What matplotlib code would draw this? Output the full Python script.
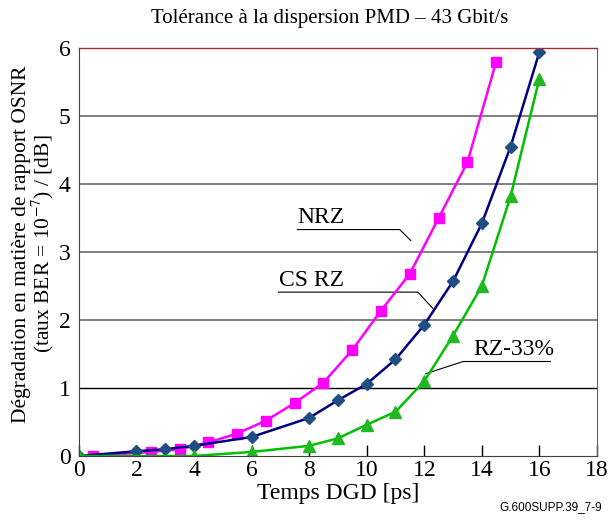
import matplotlib
matplotlib.use("Agg")
import matplotlib.pyplot as plt

# DGD [ps] / OSNR penalty [dB]
nrz_x = [0.5, 2.5, 3.5, 4.5, 5.5, 6.5, 7.5, 8.5, 9.5, 10.5, 11.5, 12.5, 13.5, 14.5]
nrz_y = [0.0, 0.06, 0.1, 0.2, 0.33, 0.52, 0.78, 1.08, 1.56, 2.14, 2.68, 3.5, 4.32, 5.8]

csrz_x = [0, 2, 3, 4, 6, 8, 9, 10, 11, 12, 13, 14, 15, 16]
csrz_y = [0.0, 0.07, 0.1, 0.15, 0.28, 0.56, 0.82, 1.06, 1.42, 1.93, 2.57, 3.42, 4.55, 5.94]

rz33_x = [0, 4, 6, 8, 9, 10, 11, 12, 13, 14, 15, 16]
rz33_y = [0.0, 0.0, 0.06, 0.15, 0.26, 0.46, 0.65, 1.1, 1.77, 2.5, 3.82, 5.55]

x_ticks = [0, 2, 4, 6, 8, 10, 12, 14, 16, 18]
y_ticks = [0, 1, 2, 3, 4, 5, 6]

plt.rcParams["font.family"] = ["Liberation Serif", "DejaVu Serif"]
plt.rcParams["mathtext.fontset"] = "stix"

fig = plt.figure(figsize=(6.11, 5.22), dpi=100)
ax = fig.add_axes([0.129, 0.1264, 0.848, 0.7816])

for yv in y_ticks[1:-1]:
    ax.axhline(yv, color="black" if yv == 1 else "#808080",
               lw=1.0 if yv == 1 else 1.4, zorder=1)

ax.plot(nrz_x, nrz_y, color="#FF00FF", lw=1.8, marker="s", ms=7, zorder=3)
ax.plot(csrz_x, csrz_y, color="#000080", lw=1.8, marker="D", ms=6.5,
        mfc="#1F4E85", mec="#1F4E85", zorder=3)
ax.plot(rz33_x, rz33_y, color="#00C000", lw=1.8, marker="^", ms=8,
        mfc="#22B822", mec="#22B822", zorder=3)

ax.set_xlim(0, 18)
ax.set_ylim(0, 6)
ax.set_xticks(x_ticks)
ax.set_yticks(y_ticks)
ax.tick_params(axis="x", direction="in", length=8, width=1, labelsize=17, pad=3)
ax.tick_params(axis="y", length=0, labelsize=17, pad=6)

ax.spines["top"].set_color("#A03030")
ax.spines["top"].set_linewidth(1.0)
ax.spines["right"].set_color("#606060")
ax.spines["left"].set_color("#404040")
ax.spines["bottom"].set_color("#404040")
for s in ax.spines.values():
    s.set_zorder(4)

ax.set_xlabel("Temps DGD [ps]", fontsize=17, labelpad=1)
ax.set_ylabel("Dégradation en matière de rapport OSNR\n(taux BER = 10$^{-7}$) / [dB]",
              fontsize=15.5, linespacing=0.9)
ax.yaxis.set_label_coords(-0.045, 0.52)
fig.text(0.54, 0.965, "Tolérance à la dispersion PMD – 43 Gbit/s",
         ha="center", va="center", fontsize=15)

# annotation callouts
def callout(label, tx, ty, ux0, ux1, uy, px, py):
    ax.text(tx, ty, label, fontsize=17, ha="left", va="bottom")
    ax.plot([ux0, ux1, px], [uy, uy, py], color="black", lw=0.8, zorder=2)

callout("NRZ", 7.6, 3.35, 7.59, 11.15, 3.33, 11.53, 3.17)
callout("CS RZ", 6.95, 2.43, 6.94, 11.78, 2.41, 12.3, 2.17)
ax.text(13.7, 1.41, "RZ-33%", fontsize=17, ha="left", va="bottom")
ax.plot([12.05, 13.35, 16.38], [1.21, 1.39, 1.39], color="black", lw=0.8, zorder=2)

fig.text(0.985, 0.018, "G.600SUPP.39_7-9", ha="right", va="bottom",
         fontsize=8.5, family=["Liberation Sans", "DejaVu Sans"])

fig.savefig("out.png", dpi=100)
